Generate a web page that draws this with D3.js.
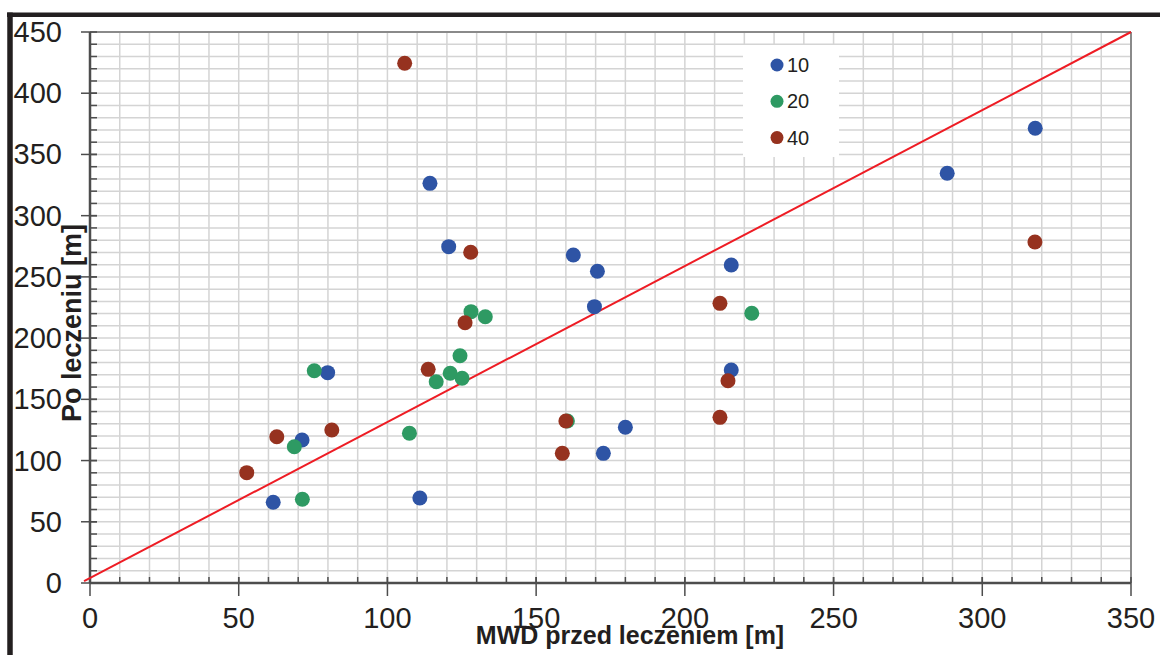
<!DOCTYPE html>
<meta charset="utf-8">
<script src="https://d3js.org/d3.v7.min.js"></script>
<style>
  * {margin: 0; padding: 0;}
  body {background: #fff;}
  .ticklabel {
    font-family: "Liberation Sans", Arial, sans-serif;
    font-size: 29px;
    fill: #231f20;
  }
  .axistitle {
    font-family: "Liberation Sans", Arial, sans-serif;
    font-size: 25px;
    font-weight: bold;
    fill: #231f20;
  }
  .legendtext {
    font-family: "Liberation Sans", Arial, sans-serif;
    font-size: 20px;
    fill: #231f20;
  }
</style>
<body>
<div id="chart"></div>
<script>

// data
var series = ["10", "20", "40"];
var colors = ["#2e54a5", "#2e9a63", "#96321f"];

var x10 = [61.6, 71.3, 79.9, 110.9, 114.3, 120.6, 162.5, 170.6, 169.6, 172.6, 180.0, 215.6, 215.6, 288.2, 317.8];
var y10 = [65.9, 116.8, 171.8, 69.4, 326.4, 274.7, 267.9, 254.6, 225.7, 105.9, 127.2, 259.7, 174.0, 334.6, 371.4];

var x20 = [68.7, 71.4, 75.4, 107.4, 116.4, 121.1, 124.4, 125.1, 128.1, 132.9, 160.5, 222.5];
var y20 = [111.3, 68.4, 173.4, 122.3, 164.4, 171.3, 185.6, 167.2, 221.6, 217.5, 132.3, 220.3];

var x40 = [52.7, 62.8, 81.3, 105.8, 113.7, 126.1, 128.0, 160.0, 158.8, 211.8, 214.5, 211.8, 317.7];
var y40 = [90.1, 119.5, 125.0, 424.5, 174.5, 212.6, 270.1, 132.3, 105.9, 228.4, 165.2, 135.3, 278.5];

// red reference line ends
var lineX = [-2, 350];
var lineY = [1.5, 450];

var xTicks = [0, 50, 100, 150, 200, 250, 300, 350];
var yTicks = [0, 50, 100, 150, 200, 250, 300, 350, 400, 450];

var W = 1160, H = 655;
var margin = {top: 32, right: 29, bottom: 72, left: 90};

var svg = d3.select("#chart")
  .append("svg")
    .attr("width", W)
    .attr("height", H);

var x = d3.scaleLinear().domain([0, 350]).range([margin.left, W - margin.right]);
var y = d3.scaleLinear().domain([0, 450]).range([H - margin.bottom, margin.top]);

// grid every 10
var gx = d3.range(10, 350, 10);
var gy = d3.range(10, 450, 10);

svg.append("g")
  .selectAll("line")
  .data(gx)
  .enter()
  .append("line")
    .attr("x1", function(d) { return x(d) })
    .attr("x2", function(d) { return x(d) })
    .attr("y1", y(0))
    .attr("y2", y(450))
    .attr("stroke", "#d4d4d4")
    .attr("stroke-width", 1.5)

svg.append("g")
  .selectAll("line")
  .data(gy)
  .enter()
  .append("line")
    .attr("x1", x(0))
    .attr("x2", x(350))
    .attr("y1", function(d) { return y(d) })
    .attr("y2", function(d) { return y(d) })
    .attr("stroke", "#d4d4d4")
    .attr("stroke-width", 1.5)

// plot frame top / right
svg.append("line")
  .attr("x1", x(0)).attr("x2", x(350))
  .attr("y1", y(450)).attr("y2", y(450))
  .attr("stroke", "#8a8a8a").attr("stroke-width", 2)
svg.append("line")
  .attr("x1", x(350)).attr("x2", x(350))
  .attr("y1", y(450)).attr("y2", y(0))
  .attr("stroke", "#8a8a8a").attr("stroke-width", 2)

// minor ticks (inside)
svg.append("g")
  .selectAll("line")
  .data(gy)
  .enter()
  .append("line")
    .attr("x1", x(0)).attr("x2", x(0) + 7)
    .attr("y1", function(d) { return y(d) })
    .attr("y2", function(d) { return y(d) })
    .attr("stroke", "#4d4d4d").attr("stroke-width", 1.5)

svg.append("g")
  .selectAll("line")
  .data(gx)
  .enter()
  .append("line")
    .attr("x1", function(d) { return x(d) })
    .attr("x2", function(d) { return x(d) })
    .attr("y1", y(0)).attr("y2", y(0) - 6)
    .attr("stroke", "#4d4d4d").attr("stroke-width", 1.5)

// major ticks (crossing)
svg.append("g")
  .selectAll("line")
  .data(yTicks)
  .enter()
  .append("line")
    .attr("x1", x(0) - 9).attr("x2", x(0) + 7)
    .attr("y1", function(d) { return y(d) })
    .attr("y2", function(d) { return y(d) })
    .attr("stroke", "#4d4d4d").attr("stroke-width", 1.5)

svg.append("g")
  .selectAll("line")
  .data(xTicks)
  .enter()
  .append("line")
    .attr("x1", function(d) { return x(d) })
    .attr("x2", function(d) { return x(d) })
    .attr("y1", y(0) - 6).attr("y2", y(0) + 13)
    .attr("stroke", "#4d4d4d").attr("stroke-width", 1.5)

// axis lines
svg.append("line")
  .attr("x1", x(0)).attr("x2", x(0))
  .attr("y1", y(450)).attr("y2", y(0))
  .attr("stroke", "#4d4d4d").attr("stroke-width", 2.5)
svg.append("line")
  .attr("x1", x(0)).attr("x2", x(350))
  .attr("y1", y(0)).attr("y2", y(0))
  .attr("stroke", "#4d4d4d").attr("stroke-width", 2.5)

// tick labels
svg.append("g")
  .selectAll("text")
  .data(yTicks)
  .enter()
  .append("text")
    .attr("class", "ticklabel")
    .attr("x", 62)
    .attr("y", function(d) { return y(d) + 10 })
    .attr("text-anchor", "end")
    .text(function(d) { return d })

svg.append("g")
  .selectAll("text")
  .data(xTicks)
  .enter()
  .append("text")
    .attr("class", "ticklabel")
    .attr("x", function(d) { return x(d) })
    .attr("y", 628)
    .attr("text-anchor", "middle")
    .text(function(d) { return d })

// axis titles
svg.append("text")
  .attr("class", "axistitle")
  .attr("x", 630)
  .attr("y", 644)
  .attr("text-anchor", "middle")
  .text("MWD przed leczeniem [m]")

svg.append("text")
  .attr("class", "axistitle")
  .style("font-size", "27px")
  .attr("transform", "translate(81,323) rotate(-90)")
  .attr("text-anchor", "middle")
  .text("Po leczeniu [m]")

// red line
svg.append("path")
  .datum(d3.zip(lineX, lineY))
  .attr("d", d3.line()
    .x(function(d) { return x(d[0]) })
    .y(function(d) { return y(d[1]) })
  )
  .attr("stroke", "#ee1c24")
  .attr("stroke-width", 2)
  .attr("fill", "none")

// points
var allX = [x10, x20, x40];
var allY = [y10, y20, y40];
series.forEach(function(s, i) {
  svg.append("g")
    .selectAll("circle")
    .data(d3.zip(allX[i], allY[i]))
    .enter()
    .append("circle")
      .attr("cx", function(d) { return x(d[0]) })
      .attr("cy", function(d) { return y(d[1]) })
      .attr("r", 7.5)
      .attr("fill", colors[i])
})

// legend
svg.append("rect")
  .attr("x", 743).attr("y", 45)
  .attr("width", 96).attr("height", 112)
  .attr("fill", "#fff")

var leg = svg.append("g")
  .selectAll("g")
  .data(series)
  .enter()
  .append("g")
    .attr("transform", function(d, i) { return "translate(777," + (65 + i * 36.3) + ")" })

leg.append("circle")
  .attr("r", 6.5)
  .attr("fill", function(d, i) { return colors[i] })

leg.append("text")
  .attr("class", "legendtext")
  .attr("x", 10)
  .attr("y", 7)
  .text(function(d) { return d })

// thick outer frame (top and left)
svg.append("line")
  .attr("x1", 7).attr("x2", W)
  .attr("y1", 14.7).attr("y2", 14.7)
  .attr("stroke", "#231f20").attr("stroke-width", 4.5)
svg.append("line")
  .attr("x1", 10).attr("x2", 10)
  .attr("y1", 12.5).attr("y2", H)
  .attr("stroke", "#231f20").attr("stroke-width", 5.5)

</script>
</body>
